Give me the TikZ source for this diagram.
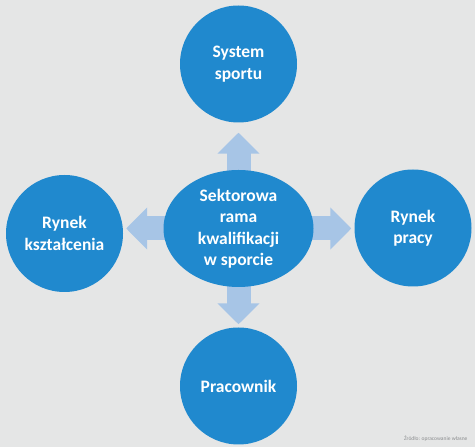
\documentclass[tikz,border=0pt]{standalone}
\usepackage{fontspec}
\setmainfont{Carlito}
\usetikzlibrary{arrows.meta,shapes.geometric}
\definecolor{Paper}{HTML}{E5E6E6}
\definecolor{Circ}{HTML}{2089CE}
\definecolor{Pale}{HTML}{A7C5E6}
\definecolor{Note}{HTML}{8A8C8E}
\pgfdeclarelayer{bg}
\pgfsetlayers{bg,main}

\begin{document}
\begin{tikzpicture}[x=1pt,y=1pt,
      circ/.style={circle,fill=Circ,inner sep=0pt,minimum size=117pt,align=center,
        text=white,font=\fontsize{17.5}{21.5}\selectfont\bfseries},
      hubnode/.style={ellipse,fill=Circ,inner sep=0pt,minimum width=150pt,minimum height=117pt,
        align=center,text=white,font=\fontsize{17.5}{21.5}\selectfont\bfseries},
      arr/.style={-{Triangle[length=21pt,width=41pt]},line width=24pt,draw=Pale}]
      \useasboundingbox (0,0) rectangle (475,447);
      \node[hubnode] (hub) at (238.5,218.5) {Sektorowa\\rama\\kwalifikacji\\w sporcie};
      \node[circ] (sport) at (238.5,383) {System\\sportu};
      \node[circ] (worker) at (238.5,61) {Pracownik};
      \node[circ] (edu) at (64.5,213.5) {Rynek\\kształcenia};
      \node[circ] (labour) at (413,219) {Rynek\\pracy};
      \begin{pgfonlayer}{bg}
        \fill[Paper] (0,0) rectangle (475,447);
        \draw[arr,shorten >=10pt] (hub.center) -- (sport);
        \draw[arr,shorten >=3pt] (hub.center) -- (worker);
        \draw[arr,shorten >=3pt] (hub.center) -- (hub.center -| edu.east);
        \draw[arr,shorten >=3pt] (hub.center) -- (hub.center -| labour.west);
      \end{pgfonlayer}
      \node[font=\fontsize{5.5}{6}\selectfont,text=Note,anchor=south east] (src) at (471,2) {Źródło: opracowanie własne};
    \end{tikzpicture}
\end{document}
